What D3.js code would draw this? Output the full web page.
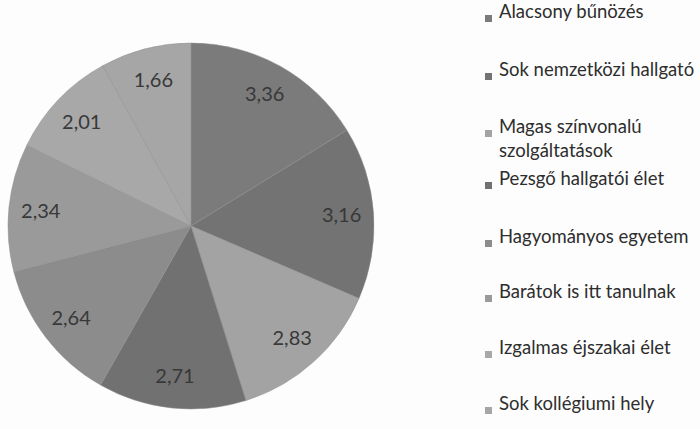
<!DOCTYPE html>
<html>
<head>
<meta charset="utf-8">
<script src="https://cdn.jsdelivr.net/npm/d3@7"></script>
<style>
  body { margin: 0; background: #fdfdfd; }
  svg { display: block; }
</style>
</head>
<body>
<script>
const categories = [
  "Alacsony bűnözés",
  "Sok nemzetközi hallgató",
  "Magas színvonalú szolgáltatások",
  "Pezsgő hallgatói élet",
  "Hagyományos egyetem",
  "Barátok is itt tanulnak",
  "Izgalmas éjszakai élet",
  "Sok kollégiumi hely"
];
const values = [3.36, 3.16, 2.83, 2.71, 2.64, 2.34, 2.01, 1.66];
const colors = ["#7b7b7b", "#737373", "#a3a3a3", "#717171", "#8c8c8c", "#9a9a9a", "#a8a8a8", "#a6a6a6"];
// legend lines (one entry wraps to two lines)
const legendLines = [
  ["Alacsony bűnözés"],
  ["Sok nemzetközi hallgató"],
  ["Magas színvonalú", "szolgáltatások"],
  ["Pezsgő hallgatói élet"],
  ["Hagyományos egyetem"],
  ["Barátok is itt tanulnak"],
  ["Izgalmas éjszakai élet"],
  ["Sok kollégiumi hely"]
];
const legendY = [18, 76, 133, 185, 243, 298, 354, 410];

const w = 700;
const h = 429;
const cx = 191;
const cy = 226;
const radius = 183;
const labelRadius = 151;

const svg = d3.select("body").append("svg").attr("width", w).attr("height", h);

const data = categories.map((c, i) => ({ name: c, value: values[i], color: colors[i] }));

const pie = d3.pie().sort(null).value((d) => d.value);
const arc = d3.arc().innerRadius(0).outerRadius(radius);
const labelArc = d3.arc().innerRadius(labelRadius).outerRadius(labelRadius);

const g = svg.append("g").attr("transform", "translate(" + cx + "," + cy + ")");

const arcs = pie(data);

g.selectAll("path")
  .data(arcs)
  .enter()
  .append("path")
  .attr("d", arc)
  .style("fill", (d) => d.data.color)
  .style("stroke", "#8f8f8f")
  .style("stroke-width", 0.5);

// value labels
g.selectAll("text")
  .data(arcs)
  .enter()
  .append("text")
  .attr("transform", (d) => "translate(" + labelArc.centroid(d) + ")")
  .attr("text-anchor", "middle")
  .attr("dy", "0.35em")
  .style("font-family", "Lato, 'Open Sans', sans-serif")
  .style("font-size", "20px")
  .style("fill", "#383838")
  .text((d) => d3.format(".2f")(d.data.value).replace(".", ","));

//legend
const legend = svg.append("g");
const items = legend
  .selectAll("g")
  .data(data)
  .enter()
  .append("g")
  .attr("transform", (d, i) => "translate(0," + legendY[i] + ")");

items
  .append("rect")
  .attr("x", 485)
  .attr("y", -3)
  .attr("width", 7)
  .attr("height", 7)
  .style("fill", (d) => d.color);

items
  .append("text")
  .attr("x", 499)
  .attr("dy", "0.35em")
  .style("font-family", "Lato, 'Open Sans', sans-serif")
  .style("font-size", "18.5px")
  .style("fill", "#2e2e2e")
  .selectAll("tspan")
  .data((d, i) => legendLines[i])
  .enter()
  .append("tspan")
  .attr("x", 499)
  .attr("dy", (d, j) => (j === 0 ? 0 : 24))
  .text((d) => d);
</script>
</body>
</html>
